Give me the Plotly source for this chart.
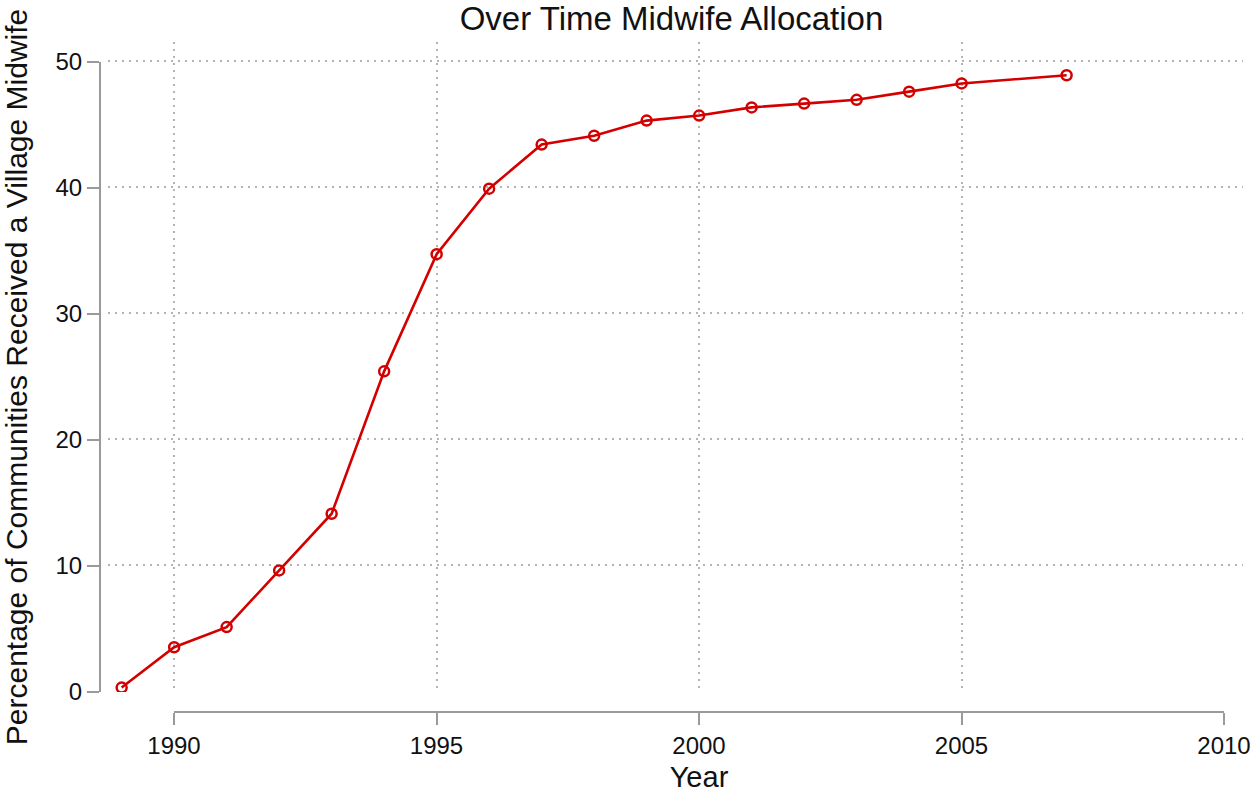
import plotly.graph_objects as go

years = [1989, 1990, 1991, 1992, 1993, 1994, 1995, 1996, 1997, 1998, 1999,
         2000, 2001, 2002, 2003, 2004, 2005, 2007]
pct = [0.3, 3.5, 5.1, 9.6, 14.1, 25.4, 34.7, 39.9, 43.4, 44.1, 45.3,
       45.7, 46.35, 46.65, 46.95, 47.6, 48.25, 48.9]
x_ticks = [1990, 1995, 2000, 2005, 2010]
x_grid = [1990, 1995, 2000, 2005]
y_ticks = [0, 10, 20, 30, 40, 50]

title = "Over Time Midwife Allocation"
x_title = "Year"
y_title = "Percentage of Communities Received a Village Midwife"

FONT = "Liberation Sans, Arial, Helvetica, sans-serif"
RED = "#d40000"
GRID = "#b4b4b4"
AX = "#9a9a9a"
TXT = "#111111"
DOT = "1.5px,5.5px"

W, H = 1253, 793
L, R, T, B = 100, 10, 42, 81
pw = W - L - R
ph = H - T - B

def px_x(p):
    return (p - L) / pw

def px_y(p):
    return (H - B - p) / ph

fig = go.Figure()
fig.add_trace(go.Scatter(
    x=years, y=pct, mode="lines+markers",
    line=dict(color=RED, width=2.6),
    marker=dict(symbol="circle-open", size=10, color=RED, line=dict(width=2.5, color=RED)),
    xaxis="x", yaxis="y", showlegend=False, hoverinfo="x+y",
))
# empty trace so the offset decoration axes are drawn
fig.add_trace(go.Scatter(x=[], y=[], xaxis="x2", yaxis="y2", showlegend=False))

fig.update_layout(
    width=W, height=H,
    margin=dict(l=L, r=R, t=T, b=B, autoexpand=False),
    plot_bgcolor="rgba(0,0,0,0)", paper_bgcolor="white",
    font=dict(family=FONT, color=TXT),
    title=dict(text=title, x=0.5, xref="paper", xanchor="center", y=0.977, yanchor="middle",
               font=dict(size=33, family=FONT, color=TXT)),
    xaxis=dict(domain=[px_x(108), 1], range=[1988.74, 2010.36], anchor="y",
               tickvals=x_grid, showticklabels=False, ticks="",
               showgrid=True, gridcolor=GRID, griddash=DOT, gridwidth=1.5,
               zeroline=False, showline=False, fixedrange=True, automargin=False),
    yaxis=dict(domain=[px_y(692), 1], range=[-0.05, 51.54], anchor="x",
               tickvals=y_ticks, showticklabels=False, ticks="",
               showgrid=True, gridcolor=GRID, griddash=DOT, gridwidth=1.5,
               zeroline=False, showline=False, fixedrange=True, automargin=False),
    xaxis2=dict(domain=[px_x(174), px_x(1224)], range=[1990, 2010], anchor="free", position=0,
                tickvals=x_ticks, ticks="outside", ticklen=12, tickwidth=2, tickcolor=AX,
                showline=True, linecolor=AX, linewidth=2, showgrid=False, zeroline=False,
                tickfont=dict(size=24, family=FONT, color=TXT),
                title=dict(text=x_title, font=dict(size=29, family=FONT, color=TXT), standoff=8),
                fixedrange=True, automargin=False),
    yaxis2=dict(domain=[px_y(692), px_y(62)], range=[0, 50], anchor="free", position=0,
                tickvals=y_ticks, ticks="outside", ticklen=12, tickwidth=2, tickcolor=AX,
                showline=True, linecolor=AX, linewidth=2, showgrid=False, zeroline=False,
                tickfont=dict(size=24, family=FONT, color=TXT),
                title=dict(text=y_title, font=dict(size=30, family=FONT, color=TXT), standoff=20),
                fixedrange=True, automargin=False),
)

fig.write_html("out.html", config={"displayModeBar": False},
               post_script="document.body.style.margin='0px';")
